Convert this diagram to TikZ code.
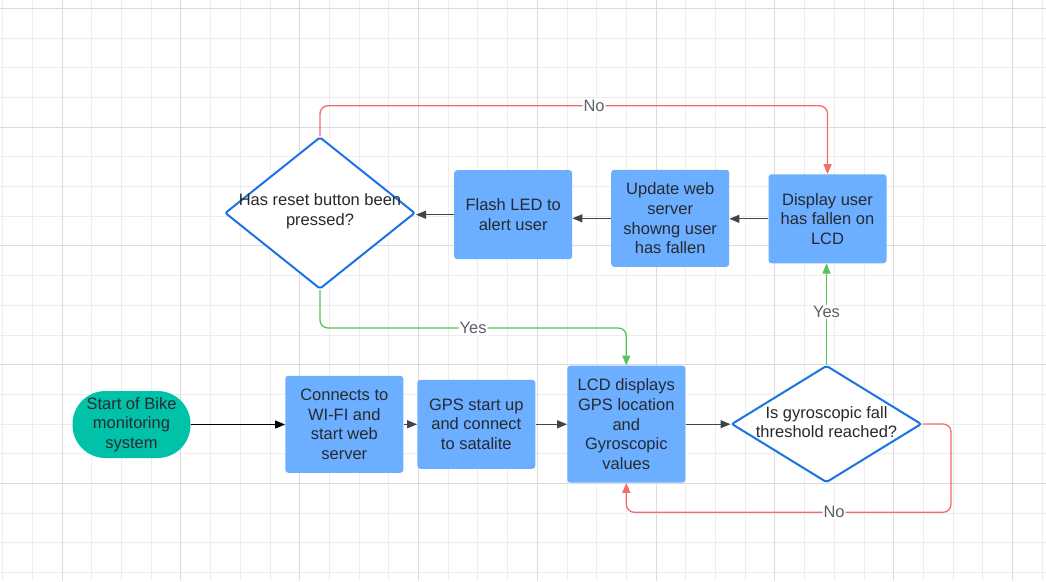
\documentclass[tikz,border=0pt]{standalone}
\usepackage{fontspec}
\setmainfont{Liberation Sans}
\usetikzlibrary{arrows.meta,shapes.geometric}
\definecolor{boxblue}{HTML}{6CAEFF}
\definecolor{diablue}{HTML}{1A72E6}
\definecolor{startteal}{HTML}{00C2A8}
\definecolor{lnred}{HTML}{F66A6A}
\definecolor{lngreen}{HTML}{58C35A}
\definecolor{lngray}{HTML}{3E444C}
\definecolor{txtcol}{HTML}{262A30}
\definecolor{lblcol}{HTML}{5C6068}
\definecolor{gridminor}{HTML}{EDEDED}
\definecolor{gridmajor}{HTML}{DCDCDC}
\begin{document}
\begin{tikzpicture}[x=1pt,y=-1pt,
  font=\fontsize{16.5}{19.7}\selectfont,
  box/.style={rectangle, rounded corners=3pt, fill=boxblue, text=txtcol, align=center, inner sep=0pt},
  startbox/.style={rectangle, rounded corners=33pt, fill=startteal, text=txtcol, align=center, inner sep=0pt, minimum width=118pt, minimum height=67pt},
  dia/.style={diamond, draw=diablue, line width=2pt, fill=white, rounded corners=2pt, inner sep=0pt},
  diatext/.style={text=txtcol, align=center, inner sep=0pt},
  tip/.style={-{Triangle[length=10pt,width=8pt]}},
  conn/.style={line width=1.2pt, draw=lngray, tip},
  redline/.style={line width=1.3pt, draw=lnred, rounded corners=8pt, tip},
  greenline/.style={line width=1.3pt, draw=lngreen, rounded corners=8pt, tip},
  lbl/.style={text=lblcol, fill=white, inner sep=1pt}
]
\useasboundingbox (0,0) rectangle (1046,581);
\fill[white] (0,0) rectangle (1046,581);
% grid
\foreach \i in {0,...,35} {\draw[gridminor, line width=1pt] ({2.7+29.7*\i},0) -- ({2.7+29.7*\i},581);}
\foreach \j in {0,...,19} {\draw[gridminor, line width=1pt] (0,{8.3+29.7*\j}) -- (1046,{8.3+29.7*\j});}
\foreach \i in {2,6,...,34} {\draw[gridmajor, line width=1pt] ({2.7+29.7*\i},0) -- ({2.7+29.7*\i},581);}
\foreach \j in {0,4,...,16} {\draw[gridmajor, line width=1pt] (0,{8.3+29.7*\j}) -- (1046,{8.3+29.7*\j});}

% nodes
\node[startbox] (start) at (131.5,424.5) {Start of Bike\\monitoring\\system};
\node[box, minimum width=118pt, minimum height=97pt] (wifi) at (344.3,424.3) {Connects to\\WI-FI and\\start web\\server};
\node[box, minimum width=118pt, minimum height=89pt] (gps) at (476.3,424.3) {GPS start up\\and connect\\to satalite};
\node[box, minimum width=118pt, minimum height=117pt] (lcd) at (626.3,424.2) {LCD displays\\GPS location\\and\\Gyroscopic\\values};
\node[dia, minimum width=190pt, minimum height=117pt] (gyro) at (826.5,424) {};
\node[diatext] (gyrot) at (826.5,422) {Is gyroscopic fall\\threshold reached?};
\node[box, minimum width=118pt, minimum height=89pt] (disp) at (827.5,218.8) {Display user\\has fallen on\\LCD};
\node[box, minimum width=118pt, minimum height=97pt] (upd) at (670.2,218.3) {Update web\\server\\showng user\\has fallen};
\node[box, minimum width=118pt, minimum height=89pt] (flash) at (513.2,214.7) {Flash LED to\\alert user};
\node[dia, minimum width=190pt, minimum height=152pt] (reset) at (320,213) {};
\node[diatext] (resett) at (320,211.5) {Has reset button been\\pressed?};

\coordinate (n1) at (951,512.3);
\coordinate (n2) at (827.5,105.7);
\coordinate (n3) at (626.3,328);

% connectors
\draw[line width=1.2pt, draw=black, tip] (start.east) -- (start.east -| wifi.west);
\draw[conn] (wifi.east) -- (wifi.east -| gps.west);
\draw[conn] (gps.east) -- (gps.east -| lcd.west);
\draw[conn] (lcd.east) -- (lcd.east -| gyro.west);
\draw[greenline] (gyro.north) -- node[lbl, pos=0.52] {Yes} (gyro.north |- disp.south);
\draw[redline] (gyro.east) -| (n1) -| node[lbl, pos=0.18] {No} (lcd.south);
\draw[conn] (disp.west) -- (disp.west -| upd.east);
\draw[conn] (upd.west) -- (upd.west -| flash.east);
\draw[conn] (flash.west) -- (flash.west -| reset.east);
\draw[redline] (reset.north) |- node[lbl, pos=0.77] {No} (n2) -- (disp.north);
\draw[greenline] (reset.south) |- node[lbl, pos=0.75] {Yes} (n3) -- (lcd.north);
\end{tikzpicture}
\end{document}
